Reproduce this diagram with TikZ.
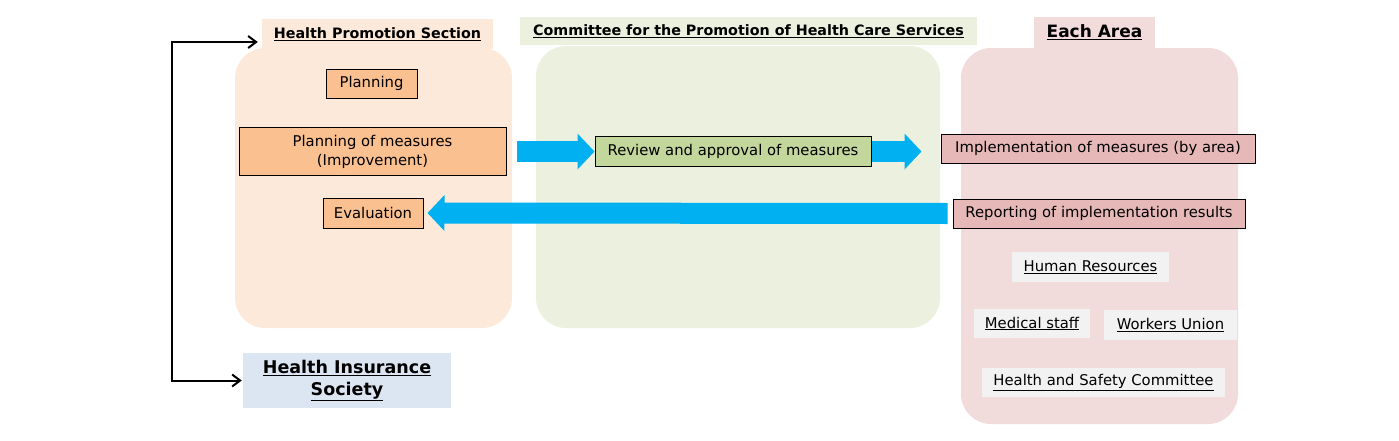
\documentclass[tikz,border=0pt]{standalone}
\usepackage{fontspec}
\setmainfont{DejaVu Sans}
\usepackage{tikz}
\usetikzlibrary{arrows.meta}

\definecolor{flowblue}{HTML}{00B0F0}
\definecolor{hpspanel}{HTML}{FDE9D9}
\definecolor{hpsbox}{HTML}{FAC090}
\definecolor{cmtpanel}{HTML}{EBF1DE}
\definecolor{cmtbox}{HTML}{C3D69B}
\definecolor{areapanel}{HTML}{F2DCDB}
\definecolor{areabox}{HTML}{E6B9B8}
\definecolor{hisbox}{HTML}{DCE6F2}
\definecolor{unitbox}{HTML}{F2F2F2}

\tikzset{
	panel/.style={rounded corners=30pt, inner sep=0pt},
	tab/.style={inner sep=0pt, font=\fontsize{14.3}{17}\selectfont\bfseries},
	taskbox/.style={draw=black, line width=1pt, inner sep=0pt, align=center, font=\fontsize{14.8}{19}\selectfont},
	unit/.style={fill=unitbox, inner sep=0pt, font=\fontsize{14.8}{19}\selectfont},
	flow/.style={flowblue, line width=21pt, -{Triangle[length=17pt,width=35pt]}},
	barb/.tip={Straight Barb[length=8pt,width=12pt]},
}

\begin{document}
\begin{tikzpicture}[x=1pt,y=-1pt]
	\useasboundingbox (0,0) rectangle (1399,440);

	\node[panel, fill=hpspanel, minimum width=277pt, minimum height=280pt] (hpsp) at (373.5,188) {};
	\node[panel, fill=cmtpanel, minimum width=404pt, minimum height=282pt] (cmtp) at (738,187) {};
	\node[panel, fill=areapanel, minimum width=277pt, minimum height=376pt] (areap) at (1099.5,236) {};

	\node[tab, fill=hpspanel, minimum width=231pt, minimum height=30pt] (hpst) at (377.5,34) {\underline{Health Promotion Section}};
	\node[tab, fill=cmtpanel, minimum width=457pt, minimum height=28pt] (cmtt) at (748.5,31) {\underline{Committee for the Promotion of Health Care Services}};
	\node[tab, fill=areapanel, minimum width=121pt, minimum height=31pt, font=\fontsize{17}{20}\selectfont\bfseries] (areat) at (1094.5,32.5) {\underline{Each Area}};

	\node[taskbox, fill=hpsbox, minimum width=91pt, minimum height=29pt] (plan) at (371.5,83.5) {Planning};
	\node[taskbox, fill=hpsbox, minimum width=267pt, minimum height=48pt] (pom) at (372.5,151.5) {Planning of measures\\(Improvement)};
	\node[taskbox, fill=hpsbox, minimum width=100pt, minimum height=30pt] (eval) at (373,213) {Evaluation};
	\node[taskbox, fill=cmtbox, minimum width=276pt, minimum height=30pt] (review) at (733,151.5) {Review and approval of measures};
	\node[taskbox, fill=areabox, minimum width=314pt, minimum height=29pt] (impl) at (1098,148.5) {Implementation of measures (by area)};
	\node[taskbox, fill=areabox, minimum width=292pt, minimum height=29pt] (report) at (1099,213.5) {Reporting of implementation results};

	\node[unit, minimum width=157pt, minimum height=30pt] (hr) at (1090.5,267) {\underline{Human Resources}};
	\node[unit, minimum width=116pt, minimum height=29pt] (med) at (1032,323.5) {\underline{Medical staff}};
	\node[unit, minimum width=133pt, minimum height=30pt] (wu) at (1170.5,325) {\underline{Workers Union}};
	\node[unit, minimum width=243pt, minimum height=29pt] (hsc) at (1103.5,382.5) {\underline{Health and Safety Committee}};

	\node[fill=hisbox, inner sep=0pt, minimum width=208pt, minimum height=55pt, align=center, font=\fontsize{17.5}{22}\selectfont\bfseries] (his) at (347,380.5) {\underline{Health Insurance}\\\underline{Society}};

	\draw[flow, shorten <=10pt] (pom.east) -- (review.west);
	\draw[flow, shorten >=19pt] (review.east) -- (review.east -| impl.west);
	\draw[flow, shorten <=5pt, shorten >=4pt] (report.west) -- (eval.east);

	\coordinate (bend) at (172,42);
	\draw[line width=2pt, barb-barb] ([xshift=-4pt]hpst.west |- bend) -- (bend) |- ([xshift=-1pt]his.west);
\end{tikzpicture}
\end{document}
